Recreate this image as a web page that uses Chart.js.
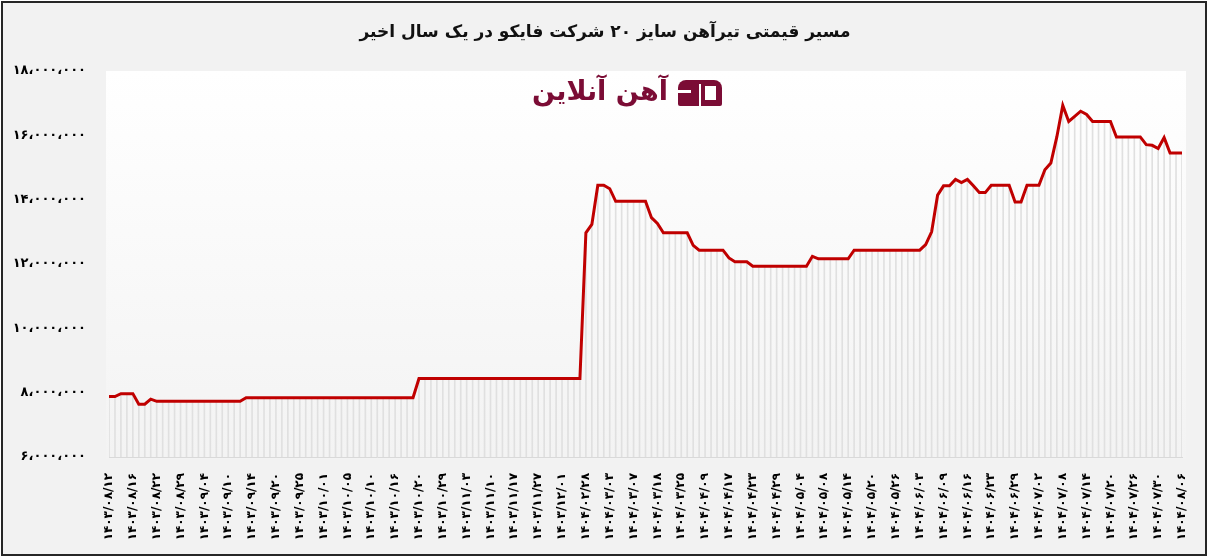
<!DOCTYPE html>
<html>
<head>
<meta charset="utf-8">
<script src="https://cdn.jsdelivr.net/npm/chart.js@4.4.1/dist/chart.umd.min.js"></script>
<style>
  html, body { margin: 0; padding: 0; background: #fff; }
  #wrap { width: 1210px; height: 560px; position: relative; }
</style>
</head>
<body>
<div id="wrap"><canvas id="priceChart"></canvas></div>
<script>
const chartTitle = 'مسیر قیمتی تیرآهن سایز ۲۰ شرکت فایکو در یک سال اخیر';
const brandText = 'آهن آنلاین';

// every 4th trading day carries a date label
const tickDates = [
  '۱۴۰۳/۰۸/۱۲', '۱۴۰۳/۰۸/۱۶', '۱۴۰۳/۰۸/۲۲', '۱۴۰۳/۰۸/۲۹', '۱۴۰۳/۰۹/۰۴', '۱۴۰۳/۰۹/۱۰',
  '۱۴۰۳/۰۹/۱۴', '۱۴۰۳/۰۹/۲۰', '۱۴۰۳/۰۹/۲۵', '۱۴۰۳/۱۰/۰۱', '۱۴۰۳/۱۰/۰۵', '۱۴۰۳/۱۰/۱۰',
  '۱۴۰۳/۱۰/۱۶', '۱۴۰۳/۱۰/۲۰', '۱۴۰۳/۱۰/۲۹', '۱۴۰۳/۱۱/۰۳', '۱۴۰۳/۱۱/۱۰', '۱۴۰۳/۱۱/۱۷',
  '۱۴۰۳/۱۱/۲۷', '۱۴۰۳/۱۲/۰۱', '۱۴۰۴/۰۲/۲۸', '۱۴۰۴/۰۳/۰۳', '۱۴۰۴/۰۳/۰۷', '۱۴۰۴/۰۳/۱۸',
  '۱۴۰۴/۰۳/۲۵', '۱۴۰۴/۰۴/۰۹', '۱۴۰۴/۰۴/۱۷', '۱۴۰۴/۰۴/۲۳', '۱۴۰۴/۰۴/۲۹', '۱۴۰۴/۰۵/۰۴',
  '۱۴۰۴/۰۵/۰۸', '۱۴۰۴/۰۵/۱۴', '۱۴۰۴/۰۵/۲۰', '۱۴۰۴/۰۵/۲۶', '۱۴۰۴/۰۶/۰۳', '۱۴۰۴/۰۶/۰۹',
  '۱۴۰۴/۰۶/۱۶', '۱۴۰۴/۰۶/۲۳', '۱۴۰۴/۰۶/۲۹', '۱۴۰۴/۰۷/۰۲', '۱۴۰۴/۰۷/۰۸', '۱۴۰۴/۰۷/۱۴',
  '۱۴۰۴/۰۷/۲۰', '۱۴۰۴/۰۷/۲۶', '۱۴۰۴/۰۷/۳۰', '۱۴۰۴/۰۸/۰۶'
];

// price in rials, one per trading day
const prices = [
  7880000, 7880000, 7970000, 7970000, 7970000, 7640000, 7640000, 7800000, 7730000, 7730000,
  7730000, 7730000, 7730000, 7730000, 7730000, 7730000, 7730000, 7730000, 7730000, 7730000,
  7730000, 7730000, 7730000, 7840000, 7840000, 7840000, 7840000, 7840000, 7840000, 7840000,
  7840000, 7840000, 7840000, 7840000, 7840000, 7840000, 7840000, 7840000, 7840000, 7840000,
  7840000, 7840000, 7840000, 7840000, 7840000, 7840000, 7840000, 7840000, 7840000, 7840000,
  7840000, 7840000, 8440000, 8440000, 8440000, 8440000, 8440000, 8440000, 8440000, 8440000,
  8440000, 8440000, 8440000, 8440000, 8440000, 8440000, 8440000, 8440000, 8440000, 8440000,
  8440000, 8440000, 8440000, 8440000, 8440000, 8440000, 8440000, 8440000, 8440000, 8440000,
  12970000, 13230000, 14450000, 14450000, 14340000, 13950000, 13950000, 13950000, 13950000, 13950000,
  13950000, 13440000, 13260000, 12970000, 12970000, 12970000, 12970000, 12970000, 12580000, 12430000,
  12430000, 12430000, 12430000, 12430000, 12190000, 12070000, 12070000, 12070000, 11930000, 11930000,
  11930000, 11930000, 11930000, 11930000, 11930000, 11930000, 11930000, 11930000, 12240000, 12160000,
  12160000, 12160000, 12160000, 12160000, 12160000, 12430000, 12430000, 12430000, 12430000, 12430000,
  12430000, 12430000, 12430000, 12430000, 12430000, 12430000, 12430000, 12600000, 13000000, 14140000,
  14430000, 14430000, 14630000, 14530000, 14630000, 14430000, 14220000, 14220000, 14450000, 14450000,
  14450000, 14450000, 13930000, 13930000, 14450000, 14450000, 14450000, 14930000, 15140000, 15950000,
  16930000, 16430000, 16590000, 16750000, 16650000, 16430000, 16430000, 16430000, 16430000, 15950000,
  15950000, 15950000, 15950000, 15950000, 15710000, 15690000, 15590000, 15930000, 15450000, 15450000,
  15450000
];

const yMin = 6000000;
const yMax = 18000000;
const yStep = 2000000;

const days = prices.map((p, i) => (i % 4 === 0 ? tickDates[i / 4] : ''));

const faDigits = '۰۱۲۳۴۵۶۷۸۹';
function toFa(n) {
  const s = String(n).replace(/\B(?=(\d{3})+(?!\d))/g, '،');
  return s.replace(/\d/g, d => faDigits[d]);
}

const frame = {
  id: 'frame',
  beforeDraw(chart) {
    const { ctx, chartArea: a } = chart;
    ctx.save();
    ctx.fillStyle = '#ffffff';
    ctx.fillRect(0, 0, chart.width, chart.height);
    ctx.fillStyle = '#f2f2f2';
    ctx.fillRect(2, 2, 1204, 553);
    ctx.strokeStyle = '#262626';
    ctx.lineWidth = 2;
    ctx.strokeRect(2, 2, 1204, 553);
    const g = ctx.createLinearGradient(0, a.top, 0, a.bottom);
    g.addColorStop(0, '#ffffff');
    g.addColorStop(1, '#f3f3f3');
    ctx.fillStyle = g;
    ctx.fillRect(a.left - 3, a.top, a.right - a.left + 7, a.bottom - a.top + 2);
    // title, centred on the whole frame
    ctx.fillStyle = '#111';
    ctx.font = 'bold 17px "DejaVu Sans"';
    ctx.textAlign = 'center';
    ctx.textBaseline = 'middle';
    ctx.fillText(chartTitle, 605, 33);
    ctx.restore();
  }
};

const brand = {
  id: 'brand',
  beforeDatasetsDraw(chart) {
    const ctx = chart.ctx;
    const c = '#7b0c35';
    ctx.save();
    ctx.fillStyle = c;
    ctx.font = 'bold 27px "DejaVu Sans"';
    ctx.textAlign = 'right';
    ctx.textBaseline = 'alphabetic';
    ctx.fillText(brandText, 668, 100);
    // icon
    ctx.beginPath();
    ctx.roundRect(678, 80, 44, 26, [8, 8, 2, 2]);
    ctx.fill();
    ctx.fillStyle = '#ffffff';
    ctx.fillRect(699, 84, 2, 22);
    ctx.fillRect(678, 90, 13, 3);
    ctx.fillRect(705, 86, 11, 14);
    ctx.restore();
  }
};

new Chart(document.getElementById('priceChart'), {
  type: 'line',
  data: {
    labels: days,
    datasets: [
      {
        type: 'line',
        data: prices,
        borderColor: '#c00000',
        borderWidth: 3,
        pointRadius: 0,
        tension: 0,
        order: 0
      },
      {
        type: 'bar',
        data: prices,
        backgroundColor: '#e0e0e0',
        barThickness: 1,
        order: 1
      }
    ]
  },
  options: {
    responsive: true,
    maintainAspectRatio: false,
    animation: false,
    layout: { padding: { left: 0, right: 28, top: 71, bottom: 0 } },
    plugins: {
      legend: { display: false },
      tooltip: { enabled: false },
      title: { display: false }
    },
    scales: {
      x: {
        offset: false,
        grid: { display: false, offset: false },
        border: { color: '#d9d9d9' },
        ticks: {
          autoSkip: false,
          minRotation: 90,
          maxRotation: 90,
          padding: 8,
          color: '#000',
          font: { family: 'DejaVu Sans', size: 12, weight: 'bold' }
        },
        afterFit(s) { s.height = 103; }
      },
      y: {
        min: yMin,
        max: yMax,
        grid: { display: false, drawTicks: false },
        border: { display: false },
        ticks: {
          stepSize: yStep,
          padding: 23,
          color: '#000',
          font: { family: 'DejaVu Sans', size: 13, weight: 'bold' },
          callback: v => toFa(v)
        },
        afterFit(s) { s.width = 109; }
      }
    }
  },
  plugins: [frame, brand]
});
</script>
</body>
</html>
